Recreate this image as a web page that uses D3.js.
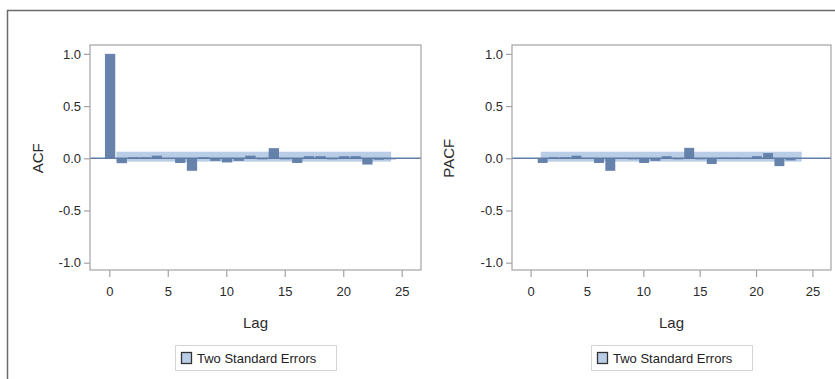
<!DOCTYPE html>
<html>
<head>
<meta charset="utf-8">
<script src="https://cdnjs.cloudflare.com/ajax/libs/d3/7.8.5/d3.min.js"></script>
<style>
  body { margin: 0; background: #fff; }
  svg { display: block; font-family: "Liberation Sans", Arial, sans-serif; }
</style>
</head>
<body>
<div id="chart-area"></div>
<script>
// lags and values
var acfLags = d3.range(0, 25);
var acfValues = [1.0, -0.047, 0.01, 0.01, 0.025, 0.0, -0.045, -0.12, 0.01, -0.025,
                 -0.04, -0.025, 0.025, -0.01, 0.097, -0.01, -0.045, 0.02, 0.02, -0.01,
                 0.02, 0.02, -0.06, -0.015, -0.01];
var pacfLags = d3.range(1, 25);
var pacfValues = [-0.045, 0.01, 0.01, 0.025, -0.005, -0.045, -0.12, -0.005, -0.01, -0.045,
                  -0.025, 0.02, -0.01, 0.1, -0.01, -0.055, 0.005, 0.005, -0.005, 0.02,
                  0.05, -0.075, -0.02, -0.005];
// two standard error band: [first lag, last lag], [lower, upper]
var acfBandLags = [0.6, 24.1];
var pacfBandLags = [0.9, 24.05];
var bandLimits = [-0.032, 0.063];

var xTicks = [0, 5, 10, 15, 20, 25];
var yTicks = [-1.0, -0.5, 0.0, 0.5, 1.0];

var barColor = "#5f7ca6";
var bandColor = "#b9cde6";

var svg = d3.select("#chart-area")
    .append("svg")
        .attr("width", 835)
        .attr("height", 379);

// outer frame (runs off the picture on the right and bottom)
svg.append("rect")
    .attr("x", 7.5).attr("y", 10.5)
    .attr("width", 900).attr("height", 400)
    .attr("fill", "none")
    .attr("stroke", "#6b6b6b")
    .attr("stroke-width", 1.5);

function panel(left, right, lags, values, bandLags, title, titleX) {
    var top = 45, bottom = 270;

    var xscale = d3.scaleLinear()
        .domain([-1.65, 26.65])
        .range([left, right]);

    var yscale = d3.scaleLinear()
        .domain([-1.07, 1.085])
        .range([bottom, top]);

    var g = svg.append("g");

    // band
    g.append("rect")
        .attr("x", xscale(bandLags[0]))
        .attr("y", yscale(bandLimits[1]))
        .attr("width", xscale(bandLags[1]) - xscale(bandLags[0]))
        .attr("height", yscale(bandLimits[0]) - yscale(bandLimits[1]))
        .attr("fill", bandColor);

    // bars
    var bw = xscale(0.88) - xscale(0);
    g.selectAll("rect.bar")
        .data(lags)
        .enter()
        .append("rect")
            .attr("class", "bar")
            .attr("x", function(d){ return xscale(d) - bw / 2 + 0.8; })
            .attr("width", bw)
            .attr("y", function(d, i){ return yscale(Math.max(0, values[i])); })
            .attr("height", function(d, i){ return Math.abs(yscale(values[i]) - yscale(0)); })
            .attr("fill", barColor)
            .attr("fill-opacity", 0.95);

    // zero line
    g.append("line")
        .attr("x1", left).attr("x2", right)
        .attr("y1", yscale(0)).attr("y2", yscale(0))
        .attr("stroke", "#5f7ca6")
        .attr("stroke-width", 1.5);

    // plot frame
    g.append("rect")
        .attr("x", left).attr("y", top)
        .attr("width", right - left).attr("height", bottom - top)
        .attr("fill", "none")
        .attr("stroke", "#a3a3a3")
        .attr("stroke-width", 1.2);

    var bottomAxisCall = d3.axisBottom(xscale)
        .tickValues(xTicks)
        .tickSize(7)
        .tickPadding(10)
        .tickFormat(d3.format("d"));

    var leftAxisCall = d3.axisLeft(yscale)
        .tickValues(yTicks)
        .tickSize(6)
        .tickPadding(3)
        .tickFormat(function(d){ return d.toFixed(1); });

    var bx = g.append("g")
        .attr("transform", "translate(0," + bottom + ")")
        .call(bottomAxisCall);
    var ly = g.append("g")
        .attr("transform", "translate(" + left + ",0)")
        .call(leftAxisCall);

    [bx, ly].forEach(function(a){
        a.select(".domain").remove();
        a.selectAll(".tick line").attr("stroke", "#a3a3a3").attr("stroke-width", 1.2);
        a.selectAll(".tick text")
            .attr("fill", "#2a2a2a")
            .style("font-size", "13px")
            .style("font-family", "'Liberation Sans', Arial, sans-serif");
    });

    g.append("text")
        .attr("x", (left + right) / 2)
        .attr("y", 328)
        .attr("text-anchor", "middle")
        .attr("fill", "#2a2a2a")
        .style("font-size", "15px")
        .text("Lag");

    g.append("text")
        .attr("transform", "translate(" + (titleX + 5) + "," + yscale(0) + ") rotate(-90)")
        .attr("text-anchor", "middle")
        .attr("fill", "#2a2a2a")
        .style("font-size", "15px")
        .text(title);

    // legend
    var cx = (left + right) / 2;
    var lg = g.append("g").attr("transform", "translate(" + (cx - 80.5) + ",345)");
    lg.append("rect")
        .attr("x", 0.5).attr("y", 0.5)
        .attr("width", 161).attr("height", 25)
        .attr("fill", "#fff")
        .attr("stroke", "#d4d4d4");
    lg.append("rect")
        .attr("x", 6.5).attr("y", 7.5)
        .attr("width", 10).attr("height", 11)
        .attr("fill", bandColor)
        .attr("stroke", "#333")
        .attr("stroke-width", 1.3);
    lg.append("text")
        .attr("x", 22).attr("y", 17.5)
        .attr("fill", "#222")
        .style("font-size", "13px")
        .text("Two Standard Errors");
}

panel(90, 421, acfLags, acfValues, acfBandLags, "ACF", 38);
panel(512, 831, pacfLags, pacfValues, pacfBandLags, "PACF", 449);
</script>
</body>
</html>
